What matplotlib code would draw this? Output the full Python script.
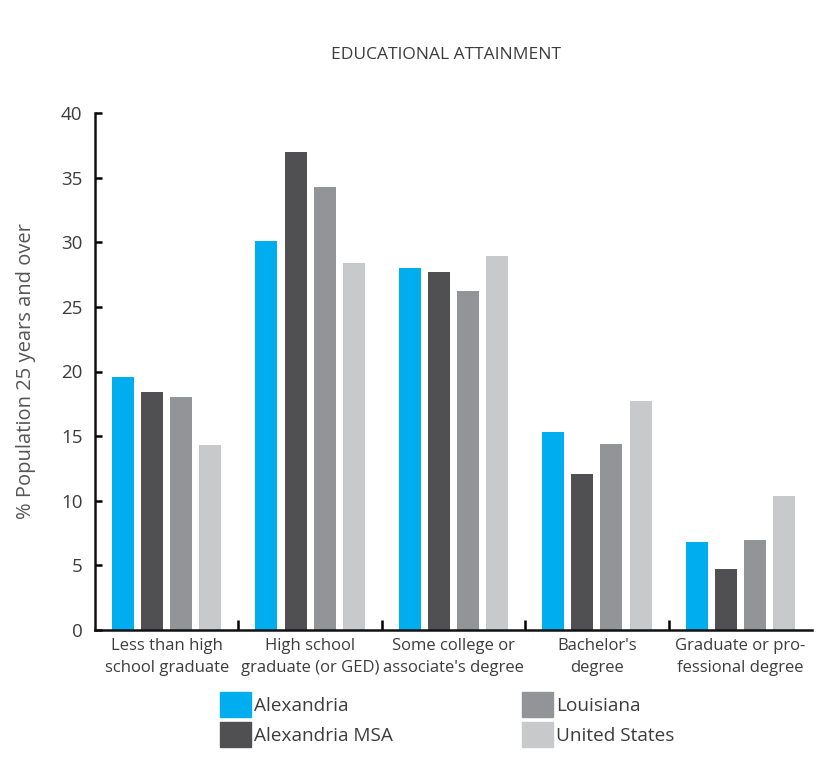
import matplotlib
matplotlib.use("Agg")
import matplotlib.pyplot as plt
import matplotlib.patches as mpatches
import numpy as np

plt.rcParams['font.family'] = ['Open Sans', 'DejaVu Sans']

# Educational attainment, % of population 25 years and over
categories = ["Less than high\nschool graduate",
              "High school\ngraduate (or GED)",
              "Some college or\nassociate's degree",
              "Bachelor's\ndegree",
              "Graduate or pro-\nfessional degree"]
alexandria = [19.6, 30.1, 28.0, 15.3, 6.8]
alexandria_msa = [18.4, 37.0, 27.7, 12.1, 4.7]
louisiana = [18.0, 34.3, 26.2, 14.4, 7.0]
united_states = [14.3, 28.4, 28.9, 17.7, 10.4]

series_names = ["Alexandria", "Alexandria MSA", "Louisiana", "United States"]
series_vals = [alexandria, alexandria_msa, louisiana, united_states]
colors = ["#00aeef", "#505052", "#929497", "#c8c9cb"]

text_col = "#3c3c3c"

fig = plt.figure(figsize=(8.28, 7.74), dpi=100)
ax = fig.add_axes([95 / 828, 1 - 630 / 774, (812 - 95) / 828, (630 - 113) / 774])

x = np.arange(len(categories))
bar_w = 0.153
step = 0.203
offsets = (np.arange(4) - 1.5) * step
for vals, off, col in zip(series_vals, offsets, colors):
    ax.bar(x + off, vals, width=bar_w, color=col, linewidth=0)

ax.set_xlim(-0.5, len(categories) - 0.5)
ax.set_ylim(0, 40)
ax.set_yticks(np.arange(0, 41, 5))
ax.set_xticks(x)
ax.set_xticklabels(categories, fontsize=12, color=text_col, linespacing=1.45)
ax.set_xticks(np.arange(0.5, len(categories) - 1, 1), minor=True)

for s in ["top", "right"]:
    ax.spines[s].set_visible(False)
for s in ["left", "bottom"]:
    ax.spines[s].set_linewidth(1.8)
    ax.spines[s].set_color("#111111")

ax.tick_params(axis="y", direction="in", length=5, width=1.8, pad=9,
               labelsize=13.5, labelcolor=text_col)
ax.tick_params(axis="x", which="major", length=0, pad=6)
ax.tick_params(axis="x", which="minor", direction="in", length=7, width=1.8)

ax.set_ylabel("% Population 25 years and over", fontsize=14.5, color="#555555")
ax.yaxis.set_label_coords(-0.082, 0.5)

fig.text(446 / 828, 1 - 55 / 774, "EDUCATIONAL ATTAINMENT", ha="center",
         va="center", fontsize=12.5, color=text_col)

handles = [mpatches.Patch(color=c, label=n) for c, n in zip(colors, series_names)]
leg_kw = dict(frameon=False, fontsize=13.7, handlelength=1.65, handleheight=1.65,
              handletextpad=0.15, labelspacing=0.25, borderpad=0, borderaxespad=0,
              labelcolor=text_col, loc="upper left")
leg1 = fig.legend(handles=handles[:2], bbox_to_anchor=(220 / 828, 1 - 692 / 774),
                  **leg_kw)
leg2 = fig.legend(handles=handles[2:], bbox_to_anchor=(522 / 828, 1 - 692 / 774),
                  **leg_kw)

fig.savefig("out.png", dpi=100, facecolor="white")
